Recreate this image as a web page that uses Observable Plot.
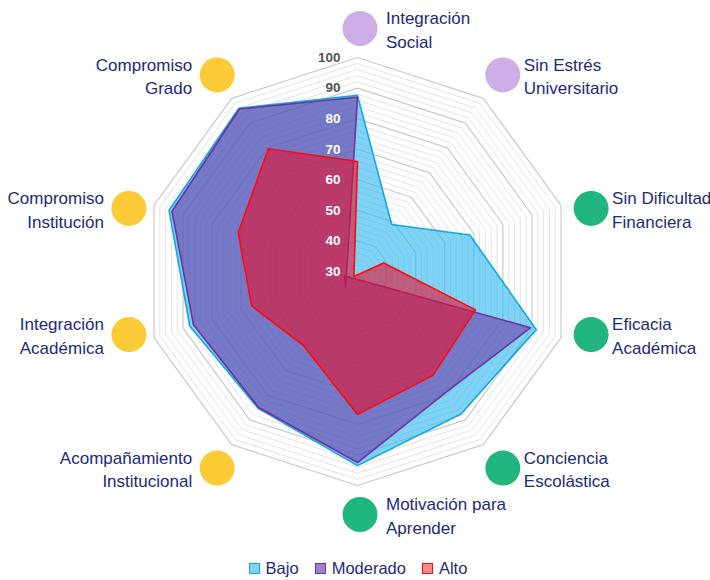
<!DOCTYPE html>
<html>
<head>
<meta charset="utf-8">
<script src="https://cdn.jsdelivr.net/npm/d3@7"></script>
<script src="https://cdn.jsdelivr.net/npm/@observablehq/plot@0.6"></script>
<style>
  html, body { margin: 0; padding: 0; background: #fff; }
  body { width: 710px; font-family: "Liberation Sans", Arial, sans-serif; }
  #legend { display: flex; justify-content: center; align-items: center; height: 32px; gap: 16px; padding-left: 6px;
            font-size: 16.5px; color: #1d2a7d; }
  .item { display: flex; align-items: center; gap: 6px; }
  .sw { width: 9px; height: 9px; border: 1.5px solid; }
</style>
</head>
<body>
<div id="chart"></div>
<div id="legend"></div>
<script>
// ---- data ----
const categories = [
  "Integración\nSocial",
  "Sin Estrés\nUniversitario",
  "Sin Dificultad\nFinanciera",
  "Eficacia\nAcadémica",
  "Conciencia\nEscolástica",
  "Motivación para\nAprender",
  "Acompañamiento\nInstitucional",
  "Integración\nAcadémica",
  "Compromiso\nInstitución",
  "Compromiso\nGrado"
];
const dimensionGroup = ["social", "social", "academic", "academic", "academic", "academic",
                        "commit", "commit", "commit", "commit"];
const bajo     = [87.6, 49, 68.6, 91.5, 87.6, 93.5, 85.3, 87.7, 94.8, 96];
const moderado = [87, 23.4, 25.5, 89.5, 79, 92.5, 85, 86.4, 93.8, 95.7];
const alto     = [66, 28, 39, 70.6, 72, 76.8, 60, 66.4, 71, 79.6];
const seriesNames = ["Bajo", "Moderado", "Alto"];
const tickValues = [30, 40, 50, 60, 70, 80, 90, 100];

// ---- styles ----
const groupColor = {social: "#cdaee6", academic: "#21b67f", commit: "#fbcb37"};
const seriesStyle = {
  Bajo:     {fill: "#29b6f0", fillOpacity: 0.6,  stroke: "#14a7e0", sw: "#7fd3f6"},
  Moderado: {fill: "#7030a0", fillOpacity: 0.55, stroke: "#7030a0", sw: "#9c80c8"},
  Alto:     {fill: "#e8102e", fillOpacity: 0.6,  stroke: "#ff0a0a", sw: "#ff8a8a"}
};
const navy = "#1d2a7d";

// ---- geometry ----
const W = 710, H = 552, cx = 357, cy = 271, R = 214;
const r = d3.scaleLinear().domain([30, 100]).range([0, 1]);
const n = categories.length;
const ang = i => (i * 2 * Math.PI) / n;
const px = (v, i) => r(v) * Math.sin(ang(i));
const py = (v, i) => r(v) * Math.cos(ang(i));

const seriesData = {Bajo: bajo, Moderado: moderado, Alto: alto};
const polys = seriesNames.map(s => ({
  name: s,
  pts: seriesData[s].map((v, i) => ({x: px(v, i), y: py(v, i)}))
}));

const levels = d3.range(32, 101, 2);
const ringPts = levels.flatMap(l => d3.range(n).map(i => ({level: l, major: l % 10 === 0, x: px(l, i), y: py(l, i)})));

const labelR = 243 / R;
const labels = categories.map((c, i) => {
  const s = Math.sin(ang(i)), co = Math.cos(ang(i));
  const side = Math.abs(s) < 0.01 ? "top" : (s > 0 ? "right" : "left");
  // labels near the horizontal are pulled slightly toward the horizontal axis
  const shiftY = Math.abs(co) < 0.5 ? -Math.sign(co) * 12 / R : 0;
  return {text: c, group: dimensionGroup[i], x: labelR * s + 2.5 / R, y: labelR * co + shiftY, side};
});

const marks = [
  Plot.line(ringPts.filter(d => !d.major), {x: "x", y: "y", z: "level", curve: "linear-closed", stroke: "#e4e4e4", strokeWidth: 1}),
  Plot.line(ringPts.filter(d => d.major), {x: "x", y: "y", z: "level", curve: "linear-closed", stroke: "#cbcbcb", strokeWidth: 1.2})
];
for (const p of polys) {
  const st = seriesStyle[p.name];
  marks.push(Plot.line(p.pts, {x: "x", y: "y", curve: "linear-closed", fill: st.fill, fillOpacity: st.fillOpacity,
                               stroke: st.stroke, strokeWidth: 1.6, strokeLinejoin: "miter"}));
}
marks.push(
  Plot.text(tickValues, {x: 0, y: d => r(d), text: d => String(d), textAnchor: "end", dx: -17,
    fill: d => d >= 90 ? "#555555" : "#ffffff", fontSize: 13.5, fontWeight: 600}),
  Plot.dot(labels, {x: "x", y: "y", r: 17.5, fill: d => groupColor[d.group], stroke: null}),
  Plot.text(labels.filter(d => d.side === "right"), {x: "x", y: "y", text: "text", textAnchor: "start", dx: 21,
    lineAnchor: "middle", lineHeight: 1.38, fontSize: 17, fill: navy}),
  Plot.text(labels.filter(d => d.side === "top"), {x: "x", y: "y", text: "text", textAnchor: "start", dx: 26,
    lineAnchor: "middle", lineHeight: 1.38, fontSize: 17, fill: navy}),
  Plot.text(labels.filter(d => d.side === "left"), {x: "x", y: "y", text: "text", textAnchor: "end", dx: -25,
    lineAnchor: "middle", lineHeight: 1.38, fontSize: 17, fill: navy})
);

const chart = Plot.plot({
  width: W, height: H, margin: 0,
  x: {domain: [-cx / R, (W - cx) / R], axis: null},
  y: {domain: [-(H - cy) / R, cy / R], axis: null},
  style: {fontFamily: "'Liberation Sans', Arial, sans-serif", background: "#fff", overflow: "visible"},
  marks
});
document.getElementById("chart").appendChild(chart);

// legend
const lg = document.getElementById("legend");
for (const s of seriesNames) {
  const st = seriesStyle[s];
  const it = document.createElement("div");
  it.className = "item";
  const sw = document.createElement("span");
  sw.className = "sw";
  sw.style.background = st.sw;
  sw.style.borderColor = st.stroke;
  const t = document.createElement("span");
  t.textContent = s;
  it.appendChild(sw); it.appendChild(t);
  lg.appendChild(it);
}
</script>
</body>
</html>
